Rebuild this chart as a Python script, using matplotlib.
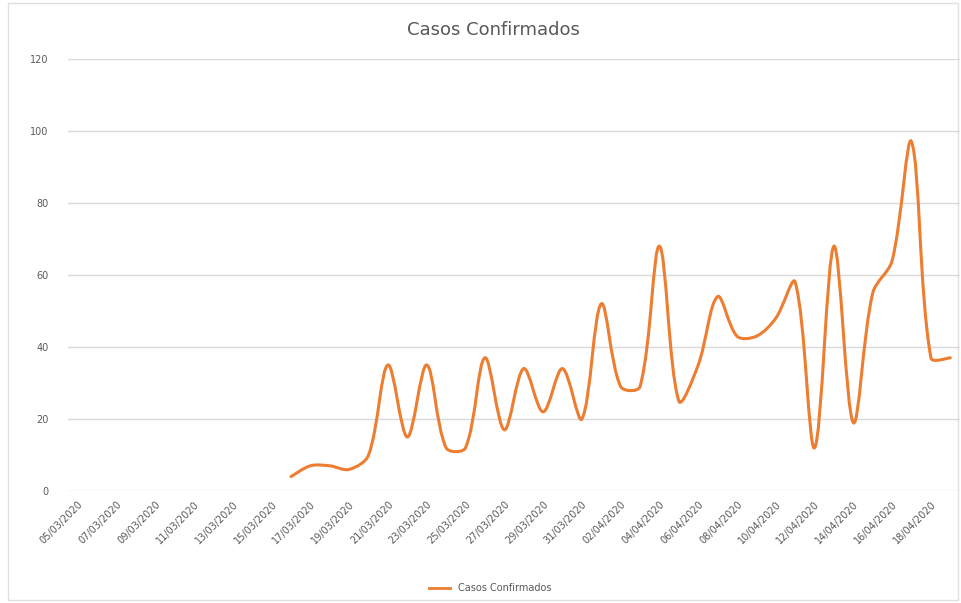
import numpy as np
import matplotlib
matplotlib.use("Agg")
import matplotlib.pyplot as plt
from matplotlib.path import Path
from matplotlib.patches import PathPatch, Rectangle
from matplotlib.lines import Line2D
import datetime as dt

# datas de 05/03/2020 a 19/04/2020
start = dt.date(2020, 3, 5)
dates = [start + dt.timedelta(days=i) for i in range(46)]
date_labels = [d.strftime("%d/%m/%Y") for d in dates]

# casos confirmados (sem dados antes de 16/03)
casos = [np.nan] * 11 + [
    4, 7, 7, 6, 10, 35, 15, 35, 12, 12,
    37, 17, 34, 22, 34, 20, 52, 29, 29, 68,
    25, 35, 54, 43, 43, 48, 58, 12, 68, 19,
    55, 64, 97, 37, 37,
]

cor_linha = "#ED7D31"
cor_texto = "#595959"
cor_grade = "#D9D9D9"

fig = plt.figure(figsize=(9.61, 6.03), dpi=100)
ax = fig.add_axes([68 / 961, 1 - 491 / 603, 892 / 961, (491 - 59) / 603])
ax.set_xlim(-0.5, len(casos) - 0.5)
ax.set_ylim(0, 120)

# curva suavizada estilo Excel: bracos de controle proporcionais ao comprimento
# dos segmentos (medidos em pixels)
x = np.arange(len(casos), dtype=float)
y = np.array(casos, dtype=float)
ok = ~np.isnan(y)
px, py = x[ok], y[ok]
sx, sy = 19.4, 3.6  # px por unidade


def dist(a, b):
    return np.hypot((b[0] - a[0]) * sx, (b[1] - a[1]) * sy)


pts = list(zip(px, py))
n = len(pts)
verts = [pts[0]]
codes = [Path.MOVETO]
t = 1 / 3
for i in range(n - 1):
    p0 = pts[max(i - 1, 0)]
    p1 = pts[i]
    p2 = pts[i + 1]
    p3 = pts[min(i + 2, n - 1)]
    d01, d12, d23 = dist(p0, p1), dist(p1, p2), dist(p2, p3)
    f1 = t * d12 / (d01 + d12) if i > 0 else t * 0.5
    f2 = t * d12 / (d12 + d23) if i + 2 < n else t * 0.5
    c1 = (p1[0] + f1 * (p2[0] - p0[0]), p1[1] + f1 * (p2[1] - p0[1]))
    c2 = (p2[0] - f2 * (p3[0] - p1[0]), p2[1] - f2 * (p3[1] - p1[1]))
    verts += [c1, c2, p2]
    codes += [Path.CURVE4] * 3
ax.add_patch(PathPatch(Path(verts, codes), facecolor="none",
                       edgecolor=cor_linha, lw=2.2, capstyle="round", zorder=3))

ax.set_yticks(range(0, 121, 20))
ax.yaxis.grid(True, color=cor_grade, lw=1)
ax.set_axisbelow(True)
for s in ax.spines.values():
    s.set_visible(False)
ax.tick_params(axis="both", length=0, colors=cor_texto, labelsize=7)
ax.tick_params(axis="y", pad=14)

ax.set_xticks(x[::2])
ax.set_xticklabels(date_labels[::2], rotation=45, ha="right", va="top",
                   rotation_mode="anchor")
ax.tick_params(axis="x", pad=6)

fig.text(493 / 961, 1 - 30 / 603, "Casos Confirmados", ha="center", va="center",
         fontsize=13, color=cor_texto)

handle = Line2D([], [], color=cor_linha, lw=2)
fig.legend([handle], ["Casos Confirmados"], loc="center",
           bbox_to_anchor=(490 / 961, 1 - 588 / 603), frameon=False,
           fontsize=7, labelcolor=cor_texto, handlelength=2.2)

fig.patches.append(Rectangle((8 / 961, 3 / 603), 950 / 961, 597 / 603,
                             transform=fig.transFigure, fill=False,
                             edgecolor="#E0E0E0", lw=1))

fig.savefig("out.png", dpi=100)
